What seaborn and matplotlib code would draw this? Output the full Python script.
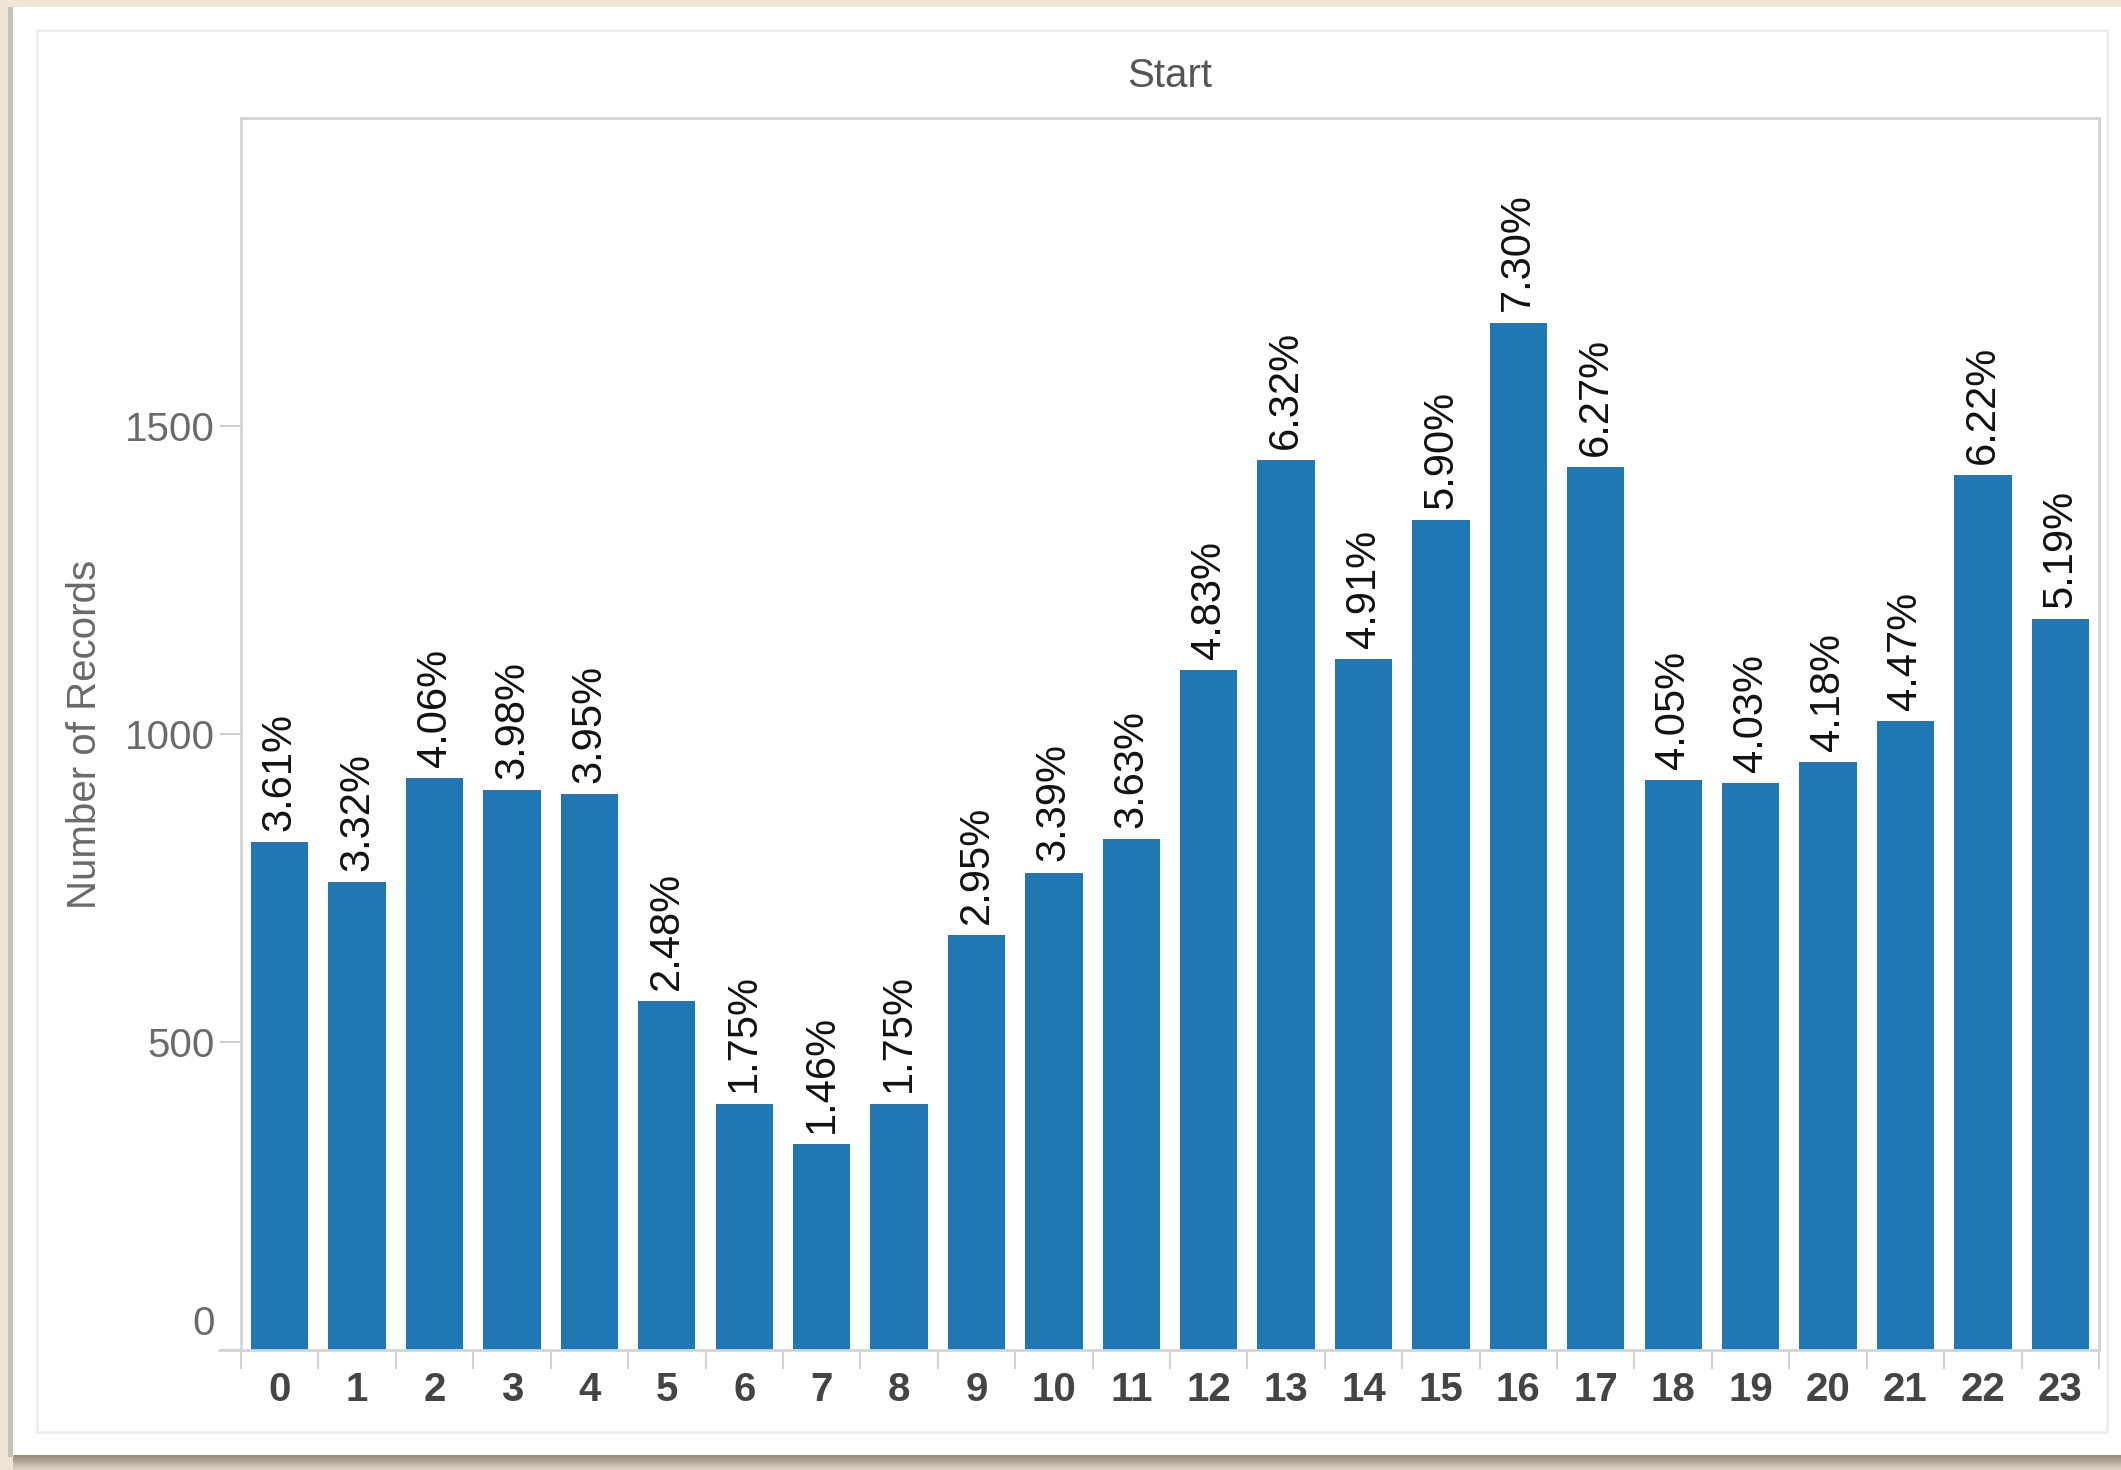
import matplotlib
matplotlib.use("Agg")
import matplotlib.pyplot as plt
import seaborn as sns
import pandas as pd
import numpy as np
from matplotlib.patches import Rectangle
from matplotlib.lines import Line2D
import matplotlib.transforms as mtrans

# ---- data ----
hours = [str(h) for h in range(24)]
records = [825, 759, 928, 909, 903, 567, 400, 334, 400, 674, 775, 829,
           1104, 1444, 1122, 1348, 1668, 1433, 925, 921, 955, 1021, 1421, 1186]
pct_labels = ["3.61%", "3.32%", "4.06%", "3.98%", "3.95%", "2.48%", "1.75%", "1.46%",
              "1.75%", "2.95%", "3.39%", "3.63%", "4.83%", "6.32%", "4.91%", "5.90%",
              "7.30%", "6.27%", "4.05%", "4.03%", "4.18%", "4.47%", "6.22%", "5.19%"]
y_ticks = [0, 500, 1000, 1500]
title = "Start"
y_title = "Number of Records"

df = pd.DataFrame({"hour": hours, "records": records})

sns.set_theme(style="white")
plt.rcParams["font.family"] = ["Liberation Sans", "DejaVu Sans"]

W, H = 2121, 1470
fig = plt.figure(figsize=(W / 100, H / 100), dpi=100)
fig.patch.set_facecolor("#EFE6D6")

# background decorations (card, shadow, inner frame) in pixel coordinates
bg = fig.add_axes([0, 0, 1, 1], zorder=-10)
bg.set_xlim(0, W)
bg.set_ylim(H, 0)
bg.axis("off")
bg.add_patch(Rectangle((0, 0), W, H, color="#EFE6D6", lw=0))
for i, a in enumerate(np.linspace(0.75, 0.15, 16)):
    bg.add_patch(Rectangle((13, 1454 + i), W, 1, color="#6f665a", alpha=a, lw=0))
bg.add_patch(Rectangle((8, 7), 6, 1450, color="#c9c1b4", lw=0))
bg.add_patch(Rectangle((13, 7), W, 1448, color="white", lw=0))
bg.add_patch(Rectangle((37, 30), 2107 - 37, 1432 - 30, fill=False,
                       ec="#ececec", lw=2))

# main plot
L, R, T, B = 241, 2099, 118, 1350
ax = fig.add_axes([L / W, 1 - B / H, (R - L) / W, (B - T) / H])
ax.set_facecolor("white")
sns.barplot(data=df, x="hour", y="records", color="#1F77B4", saturation=1,
            width=0.74, ax=ax, edgecolor="none")
ax.set_xlim(-0.5, 23.5)
ax.set_ylim(0, 2000)

for i, (v, lab) in enumerate(zip(records, pct_labels)):
    ax.annotate(lab, (i, v), xytext=(0, 8), textcoords="offset points",
                rotation=90, ha="center", va="bottom", fontsize=30, color="#111111")

for s in ax.spines.values():
    s.set_color("#d4d4d4")
    s.set_linewidth(2)

ax.set_yticks(y_ticks)
ax.set_yticklabels([str(t) for t in y_ticks])
ax.tick_params(axis="y", length=15, width=1.5, color="#d0d0d0", pad=4,
               labelsize=29, labelcolor="#6a6a6a", left=True)
lbl0 = ax.get_yticklabels()[0]
lbl0.set_transform(lbl0.get_transform() + mtrans.ScaledTranslation(0, 0.3, fig.dpi_scale_trans))

ax.set_xticks(range(24))
ax.set_xticklabels(hours)
ax.set_xticks(np.arange(-0.5, 24, 1), minor=True)
ax.tick_params(axis="x", which="major", length=0, pad=15, labelsize=29,
               labelcolor="#444444", bottom=True)
ax.tick_params(axis="x", which="minor", length=14, width=1.5, color="#d0d0d0",
               bottom=True)
for t in ax.get_xticklabels():
    t.set_fontweight("bold")

ax.set_xlabel("")
ax.set_ylabel(y_title, fontsize=29, color="#6a6a6a")
ax.yaxis.set_label_coords((104 - L) / (R - L), 0.5)
ax.text(0.5, 1 + (T - 76) / (B - T), title, transform=ax.transAxes,
        ha="center", va="center", fontsize=29, color="#555555")

ax.add_line(Line2D([-0.012, 0], [0, 0], transform=ax.transAxes, color="#d4d4d4",
                   lw=2, clip_on=False))
ax.grid(False)

fig.savefig("out.png", dpi=100, facecolor=fig.get_facecolor())
